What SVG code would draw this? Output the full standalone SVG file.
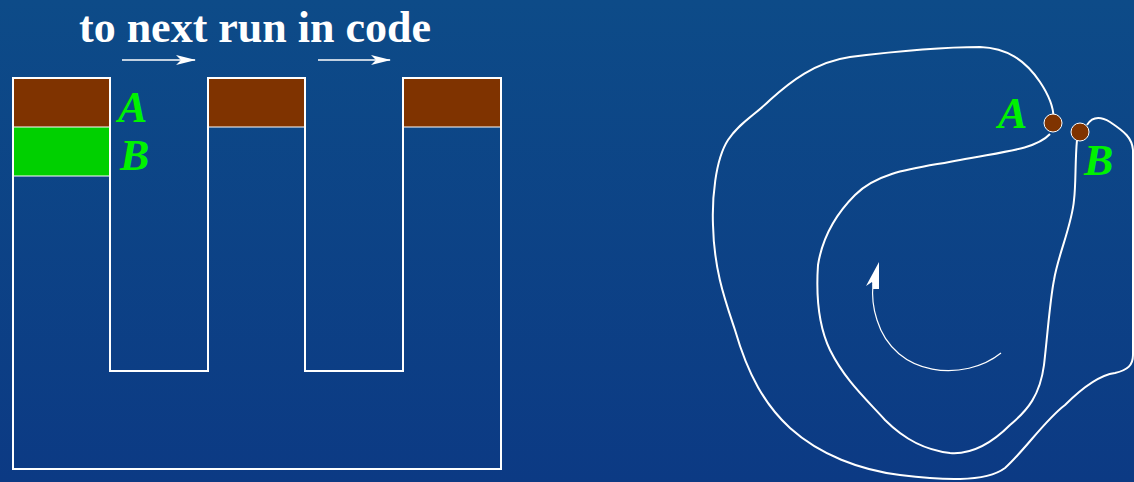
<svg xmlns="http://www.w3.org/2000/svg" width="1134" height="482" viewBox="0 0 1134 482">
<defs>
<linearGradient id="bg" x1="0" y1="0" x2="0" y2="1">
<stop offset="0" stop-color="#0d4b88"/>
<stop offset="1" stop-color="#0c3a84"/>
</linearGradient>
<marker id="ah" viewBox="0 0 20 10" refX="19" refY="5" markerWidth="20" markerHeight="10" markerUnits="userSpaceOnUse" orient="auto">
<path d="M0,0 L20,5 L0,10 L5,5 Z" fill="#ffffff"/>
</marker>
<style>
.ln{fill:none;stroke:#ffffff;stroke-width:2}
.thin{fill:none;stroke:#ffffff;stroke-width:1.2}
.arr{fill:none;stroke:#ffffff;stroke-width:1.6}
.lab{font-family:"Liberation Serif",serif;font-style:italic;font-weight:bold;font-size:44px;fill:#00f200}
.ttl{font-family:"Liberation Serif",serif;font-weight:bold;font-size:44px;fill:#ffffff}
.brown{fill:#7f3300}
.dot{fill:#7f3300;stroke:#ffffff;stroke-width:1}
</style>
</defs>
<rect width="1134" height="482" fill="url(#bg)"/>
<text class="ttl" x="255" y="42" text-anchor="middle">to next run in code</text>
<g id="comb">
<rect class="brown" x="13" y="78" width="97" height="49"/>
<rect x="13" y="127" width="97" height="49" fill="#00d000"/>
<rect class="brown" x="208" y="78" width="97" height="49"/>
<rect class="brown" x="403" y="78" width="98" height="49"/>
<path class="thin" d="M13,127 H110 M13,176 H110 M208,127 H305 M403,127 H501"/>
<path class="ln" d="M13,78 H110 V371 H208 V78 H305 V371 H403 V78 H501 V469 H13 Z"/>
</g>
<g id="labels-left">
<text class="lab" x="118" y="122">A</text>
<text class="lab" x="120" y="170">B</text>
</g>
<g id="connectors">
<line class="arr" x1="122" y1="60" x2="195" y2="60" marker-end="url(#ah)"/>
<line class="arr" x1="318" y1="60" x2="390" y2="60" marker-end="url(#ah)"/>
<path class="thin" d="M1001,353 C965,382 895,378 877,320 C872,305 872,294 873,284"/>
<polygon points="879,262 866,286 872,282 873,289 879,289" fill="#ffffff"/>
</g>
<g id="loop">
<path class="ln" d="M1053,123 C1055,112 1050,97 1040,82 C1025,60 1007,48 980,47 C940,47 890,52 850,57 C815,62 790,82 770,100 C755,115 740,122 728,140 C715,160 712,200 713,225 C714,270 725,300 735,330 C748,375 765,405 790,428 C820,455 860,470 900,475 C940,480 985,483 1005,468 C1025,450 1045,420 1065,405 C1085,385 1100,375 1115,373 C1128,370 1133,365 1133,355 L1133,150 C1132,138 1125,132 1110,122 C1100,116 1092,117 1087,125"/>
<path class="ln" d="M1077,140 C1075,160 1076,185 1074,200 C1072,225 1058,255 1054,280 C1050,300 1048,330 1044,365 C1040,395 1028,410 1010,425 C995,440 975,455 950,453 C925,450 905,440 885,420 C865,398 845,380 830,350 C818,325 816,295 818,265 C822,240 835,215 855,195 C880,170 920,168 960,160 C1000,152 1035,150 1050,134"/>
</g>
<g id="nodeA">
<circle class="dot" cx="1053" cy="123" r="9"/>
<text class="lab" x="998" y="128">A</text>
</g>
<g id="nodeB">
<circle class="dot" cx="1080" cy="132" r="9"/>
<text class="lab" x="1084" y="175">B</text>
</g>
</svg>
